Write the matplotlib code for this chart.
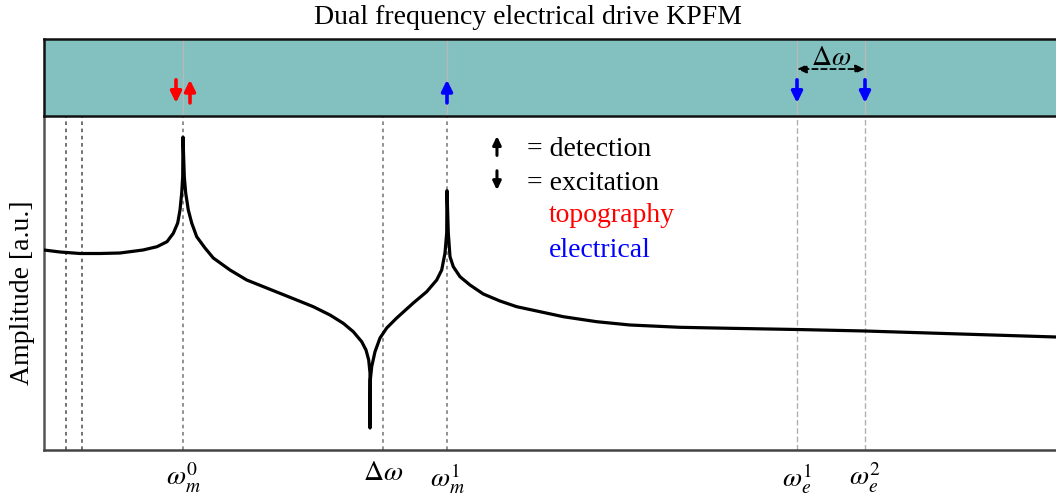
import matplotlib
matplotlib.use("Agg")
import matplotlib.pyplot as plt

plt.rcParams["font.family"] = ["Liberation Serif", "DejaVu Serif"]
plt.rcParams["mathtext.fontset"] = "stix"

# Response spectrum (frequency in arbitrary units, amplitude in a.u.)
freq = [0, 16, 36, 56, 76, 86, 99, 113, 123, 129.3, 133.7, 136, 137.7, 138.7,
        139, 140.3, 141.7, 144.3, 147.7, 152.7, 161, 169.3, 186, 202.7, 227.7,
        252.7, 269.3, 286, 299.3, 309.3, 317.7, 322, 324.7, 326, 326, 326.3,
        327.7, 331, 336, 342.7, 352.7, 369.3, 382.7, 392.7, 397.7, 401, 402.7,
        403, 404.3, 406, 409.3, 416, 426, 439.3, 456, 472.7, 496, 519.3, 552.7,
        586, 636, 686, 753, 821, 1012]
amplitude = [200, 198, 196.5, 196.5, 197, 198.3, 200, 203.3, 208.3, 216.7, 227,
             240, 257, 273.3, 313, 273.3, 257, 240, 227, 213.3, 202, 192, 180,
             170, 160, 150, 143.3, 135, 126.7, 118.3, 108.3, 100, 90, 77, 22,
             70, 83.3, 98.3, 112, 122, 132, 147, 158.3, 170, 180, 197, 217,
             259.3, 217, 193.3, 183.3, 173.3, 165, 156, 149, 143.3, 138.3,
             133.3, 128.3, 125, 122.7, 121.7, 120.5, 119, 113]

# Characteristic frequencies
w_m0, delta_w, w_m1, w_e1, w_e2 = 139, 339, 403, 753, 821
aux_lines = [22, 38]
tick_pos = [w_m0, delta_w, w_m1, w_e1, w_e2]
tick_labels = [r"$\omega_m^0$", r"$\Delta\omega$", r"$\omega_m^1$",
               r"$\omega_e^1$", r"$\omega_e^2$"]
x_max = 1012
y_max = 334

fig = plt.figure(figsize=(10.56, 4.97), dpi=100)
W, H = 1056, 497

ax = fig.add_axes([44 / W, (H - 450) / H, 1012 / W, 334 / H])
top = fig.add_axes([44 / W, (H - 116) / H, 1012 / W, 77 / H], sharex=ax)

# Main spectrum panel
ax.plot(freq, amplitude, color="black", lw=2.3, solid_joinstyle="round",
        solid_capstyle="round", zorder=3)
for x in aux_lines:
    ax.axvline(x, color="#666666", ls=(0, (2, 2)), lw=1.3, zorder=1)
for x in (w_m0, delta_w, w_m1):
    ax.axvline(x, color="#888888", ls=(0, (2, 2)), lw=1.3, zorder=1)
for x in (w_e1, w_e2):
    ax.axvline(x, color="#b0b0b0", ls=(0, (4, 2)), lw=1.0, zorder=1)

ax.set_xlim(0, x_max)
ax.set_ylim(0, y_max)
ax.set_xticks(tick_pos)
ax.set_xticklabels(tick_labels, fontsize=20)
ax.tick_params(axis="x", length=0, pad=8)
ax.set_yticks([])
ax.set_ylabel("Amplitude [a.u.]", fontsize=20)
ax.yaxis.set_label_coords(-0.009, 0.47)
for s in ("top", "right"):
    ax.spines[s].set_visible(False)
ax.spines["left"].set_color("#555555")
ax.spines["left"].set_linewidth(1.8)
ax.spines["bottom"].set_color("#444444")
ax.spines["bottom"].set_linewidth(1.8)

# Key for the arrow symbols and colours
key_style = dict(arrowstyle="-|>,head_width=0.24,head_length=0.5", lw=2.2,
                 color="black", shrinkA=0, shrinkB=0)
ax.annotate("", xy=(0.4476, 0.94), xytext=(0.4476, 0.882),
            xycoords="axes fraction", arrowprops=key_style)
ax.annotate("", xy=(0.4476, 0.778), xytext=(0.4476, 0.836),
            xycoords="axes fraction", arrowprops=key_style)
ax.text(0.477, 0.880, "= detection", transform=ax.transAxes, fontsize=20,
        va="baseline", ha="left")
ax.text(0.477, 0.778, "= excitation", transform=ax.transAxes, fontsize=20,
        va="baseline", ha="left")
ax.text(0.4985, 0.683, "topography", transform=ax.transAxes, fontsize=20,
        va="baseline", ha="left", color="#ff0000")
ax.text(0.4985, 0.578, "electrical", transform=ax.transAxes, fontsize=20,
        va="baseline", ha="left", color="#0000ff")

# Drive/detection panel
top.set_facecolor("#83c0c0")
top.set_ylim(0, 1)
for x in (w_m0, w_m1, w_e1, w_e2):
    top.axvline(x, color="#b8b8b8", lw=1.0, zorder=1)
top.tick_params(left=False, bottom=False, labelleft=False, labelbottom=False)
top.spines["right"].set_visible(False)
for s in ("top", "left", "bottom"):
    top.spines[s].set_linewidth(1.8)
    top.spines[s].set_color("#111111")

arrow_style = dict(arrowstyle="-|>,head_width=0.32,head_length=0.65", lw=2.6,
                   shrinkA=0, shrinkB=0)


def arrow(x, up, color):
    y0, y1 = (0.17, 0.47) if up else (0.47, 0.17)
    top.annotate("", xy=(x, y1), xytext=(x, y0),
                 arrowprops=dict(color=color, **arrow_style))


arrow(w_m0 - 7, False, "#ff0000")
arrow(w_m0 + 7, True, "#ff0000")
arrow(w_m1, True, "#0000ff")
arrow(w_e1, False, "#0000ff")
arrow(w_e2, False, "#0000ff")

top.annotate("", xy=(w_e1, 0.61), xytext=(w_e2, 0.61),
             arrowprops=dict(arrowstyle="<|-|>,head_width=0.25,head_length=0.55",
                             ls=(0, (3, 2)), lw=1.3, color="black",
                             shrinkA=0, shrinkB=0))
top.text((w_e1 + w_e2) / 2, 0.745, r"$\Delta\omega$", ha="center", va="center",
         fontsize=20)

fig.text(0.5, 1 - 24 / H, "Dual frequency electrical drive KPFM", ha="center",
         va="baseline", fontsize=20)

fig.savefig("out.png", dpi=100)
